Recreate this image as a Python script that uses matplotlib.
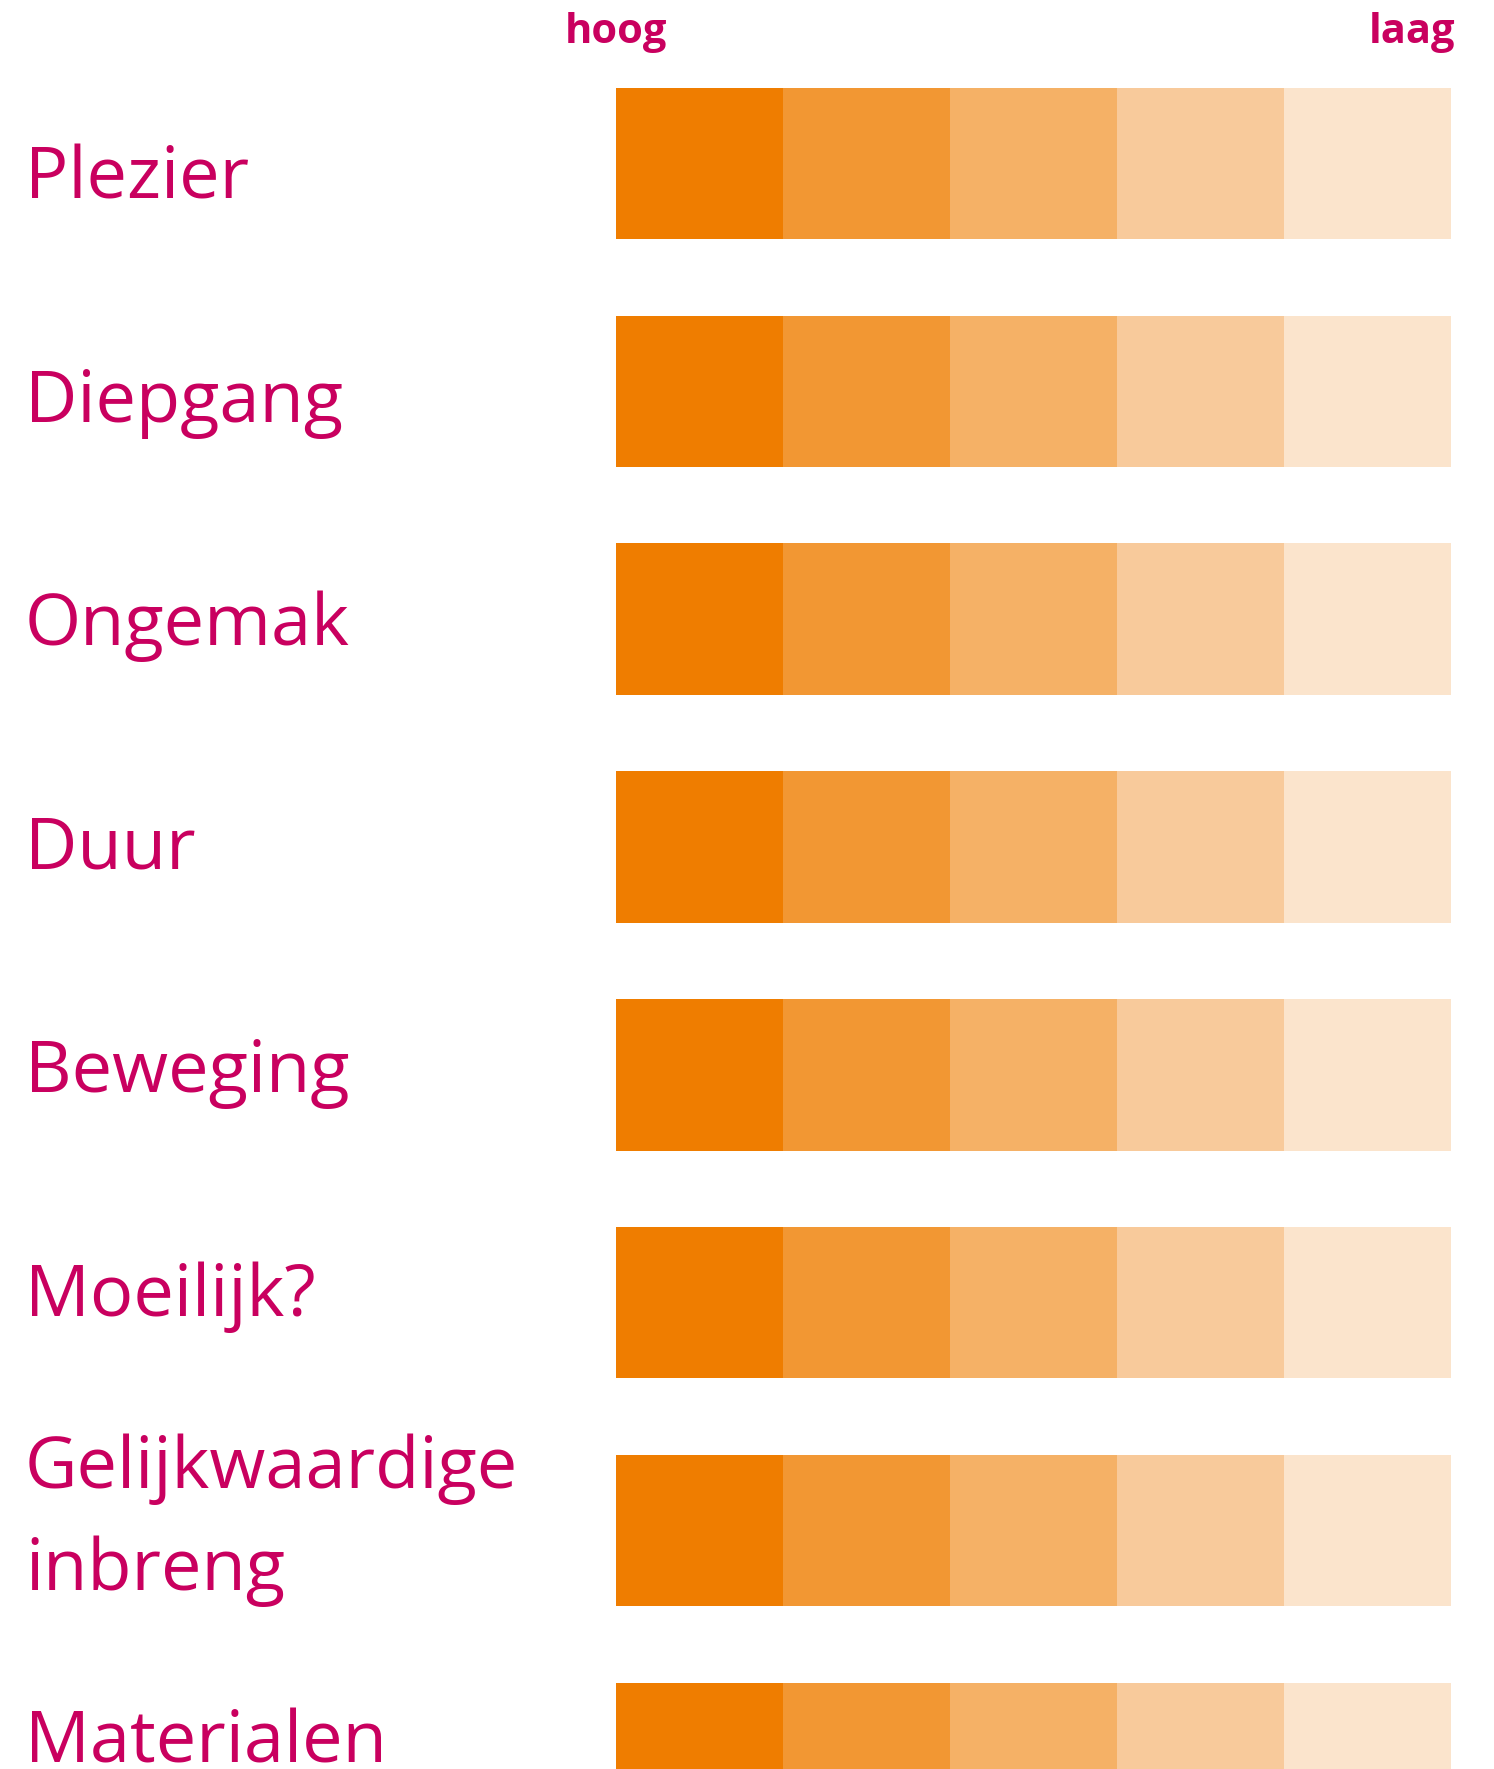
import matplotlib
matplotlib.use("Agg")
import matplotlib.pyplot as plt

# ---- data ----
categories = ["Plezier", "Diepgang", "Ongemak", "Duur", "Beweging",
              "Moeilijk?", "Gelijkwaardige\ninbreng", "Materialen"]
level_values = [1, 1, 1, 1, 1]          # five equal steps from "hoog" to "laag"
level_colors = ["#EF7D00", "#F29733", "#F5B166", "#F8CA9B", "#FBE4CC"]
scale_labels = ["hoog", "laag"]

TEXT = "#C9005F"
W, H = 1494, 1769
DPI = 100

fig = plt.figure(figsize=(W / DPI, H / DPI), dpi=DPI)
fig.patch.set_facecolor("white")

bar_left_px, bar_right_px = 616, 1451
ax = fig.add_axes([bar_left_px / W, 0, (bar_right_px - bar_left_px) / W, 1])
ax.set_axis_off()

row_px = 227.9
first_center_px = 163.3
bar_h = 151.2 / row_px

for i, cat in enumerate(categories):
    left = 0
    for v, c in zip(level_values, level_colors):
        ax.barh(i, v, left=left, height=bar_h, color=c, edgecolor="none")
        left += v

ax.set_xlim(0, sum(level_values))
ax.set_ylim((H - first_center_px) / row_px, -first_center_px / row_px)

# labels on the left (text rows flow slightly tighter than the bars)
label_first_base_px = 198.3
label_step_px = 223.5
line_px = 101.7
for i, cat in enumerate(categories):
    lines = cat.split("\n")
    n = len(lines)
    mid = label_first_base_px + label_step_px * i
    for k, ln in enumerate(lines):
        ypx = mid + (k - (n - 1) / 2) * line_px
        fig.text(25 / W, 1 - ypx / H, ln, ha="left", va="baseline",
                 fontsize=52, color=TEXT, family="Open Sans")

# scale labels
fig.text(565 / W, 1 - 43.3 / H, scale_labels[0], ha="left", va="baseline",
         fontsize=30, fontweight="bold", color=TEXT, family="Open Sans")
fig.text(1455 / W, 1 - 43.3 / H, scale_labels[1], ha="right", va="baseline",
         fontsize=30, fontweight="bold", color=TEXT, family="Open Sans")

fig.savefig("out.png", dpi=DPI, facecolor="white")
